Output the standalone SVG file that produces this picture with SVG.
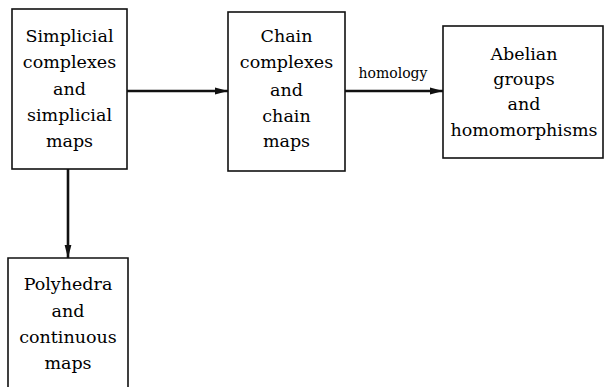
<svg xmlns="http://www.w3.org/2000/svg" width="604" height="387" viewBox="0 0 604 387">
<defs>
<style>
.box{fill:#fff;stroke:#111;stroke-width:1.6}
.t{font-family:"DejaVu Serif","Liberation Serif",serif;font-size:17.5px;fill:#000;text-anchor:middle}
.lbl{font-family:"DejaVu Serif","Liberation Serif",serif;font-size:14px;fill:#000;text-anchor:middle}
.edge{stroke:#111;stroke-width:2.6;fill:none}
</style>
<marker id="ah" viewBox="0 0 13 8" refX="13" refY="4" markerWidth="13" markerHeight="8" markerUnits="userSpaceOnUse" orient="auto">
<path d="M0,0.6 L13,4 L0,7.4 Z" fill="#111"/>
</marker>
</defs>
<rect width="604" height="387" fill="#fff"/>
<g id="connectors">
<line class="edge" x1="127" y1="91" x2="228" y2="91" marker-end="url(#ah)"/>
<line class="edge" x1="345" y1="91" x2="443" y2="91" marker-end="url(#ah)"/>
<text class="lbl" x="393" y="78">homology</text>
<line class="edge" x1="68" y1="169" x2="68" y2="258" marker-end="url(#ah)"/>
</g>
<g id="simplicial">
<rect class="box" x="12" y="9" width="115" height="160"/>
<text class="t" x="69.5" y="42">Simplicial</text>
<text class="t" x="69.5" y="68">complexes</text>
<text class="t" x="69.5" y="95">and</text>
<text class="t" x="69.5" y="121">simplicial</text>
<text class="t" x="69.5" y="147">maps</text>
</g>
<g id="chain">
<rect class="box" x="228" y="12" width="117" height="159"/>
<text class="t" x="286.5" y="42">Chain</text>
<text class="t" x="286.5" y="68">complexes</text>
<text class="t" x="286.5" y="96">and</text>
<text class="t" x="286.5" y="122">chain</text>
<text class="t" x="286.5" y="147">maps</text>
</g>
<g id="abelian">
<rect class="box" x="443" y="26" width="160" height="132"/>
<text class="t" x="524" y="60">Abelian</text>
<text class="t" x="524" y="85">groups</text>
<text class="t" x="524" y="110">and</text>
<text class="t" x="524" y="136">homomorphisms</text>
</g>
<g id="polyhedra">
<path class="box" d="M8,392 V258 H128 V392"/>
<text class="t" x="68" y="290">Polyhedra</text>
<text class="t" x="68" y="317">and</text>
<text class="t" x="68" y="343">continuous</text>
<text class="t" x="68" y="369">maps</text>
</g>
</svg>
